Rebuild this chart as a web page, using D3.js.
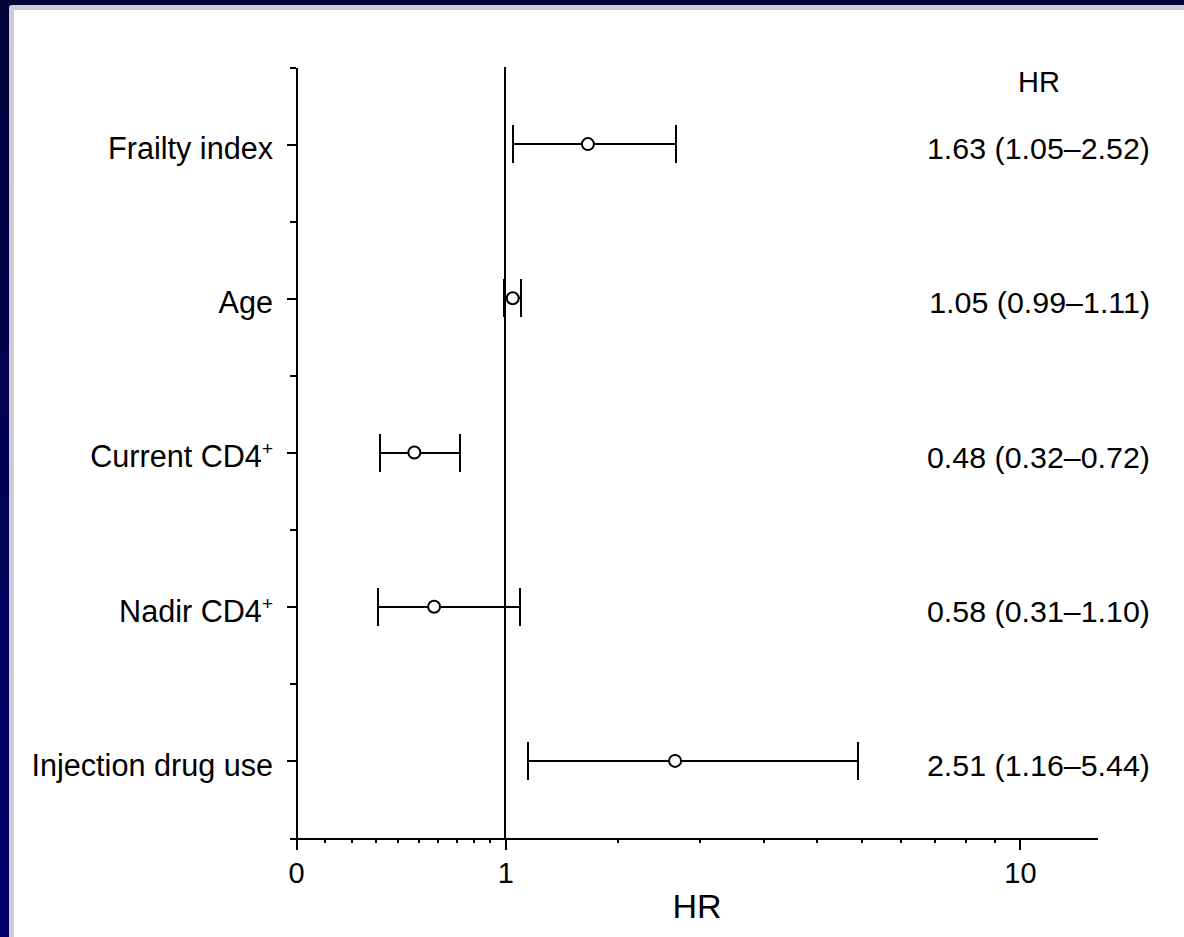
<!DOCTYPE html>
<html>
<head>
<meta charset="utf-8">
<script src="https://cdn.jsdelivr.net/npm/d3@7"></script>
<style>
  html, body { margin: 0; padding: 0; background: #000050; }
  svg { display: block; }
  text { font-family: 'Liberation Sans', Arial, Helvetica, sans-serif; fill: #000; }
  line, path.domain { shape-rendering: crispEdges; }
</style>
</head>
<body>
<script>
// forest plot data: hazard ratios with 95% CI
const labels = ['Frailty index', 'Age', 'Current CD4', 'Nadir CD4', 'Injection drug use']
const labelSup = ['', '', '+', '+', '']
const hr = [1.63, 1.05, 0.48, 0.58, 2.51]
const lo = [1.05, 0.99, 0.32, 0.31, 1.16]
const hi = [2.52, 1.11, 0.72, 1.10, 5.44]

// x axis ticks (HR scale is log of HR + 1)
const majorTicks = [0, 1, 10]
const minorTicks = [0.1, 0.2, 0.3, 0.4, 0.5, 0.6, 0.7, 0.8, 0.9,
  1.9, 2.8, 3.7, 4.6, 5.5, 6.4, 7.3, 8.2, 9.1]
const hrMax = 13.2

const width = 1184
const height = 937
const plotLeft = 296
const plotRight = 1097
const plotTop = 67
const plotBottom = 838

const svg = d3.select('body').append('svg')
  .attr('width', width)
  .attr('height', height)

// frame
const defs = svg.append('defs')
const grad = defs.append('linearGradient')
  .attr('id', 'bg')
  .attr('x1', 0).attr('y1', 0).attr('x2', 0).attr('y2', 1)
grad.append('stop').attr('offset', '0%').attr('stop-color', '#03033a')
grad.append('stop').attr('offset', '100%').attr('stop-color', '#00006c')

svg.append('rect')
  .attr('width', width).attr('height', height)
  .attr('fill', 'url(#bg)')
svg.append('rect')
  .attr('x', 9).attr('y', 5)
  .attr('width', width).attr('height', height)
  .attr('rx', 3)
  .attr('fill', '#cdcdd1')
svg.append('rect')
  .attr('x', 14).attr('y', 10)
  .attr('width', width).attr('height', height)
  .attr('fill', '#fff')

// scales
const x = d3.scaleLog()
  .domain([1, hrMax + 1])
  .range([plotLeft, plotRight])
const xv = v => x(v + 1)

const y = d3.scaleBand()
  .domain(labels)
  .range([plotTop, plotBottom])
const yc = d => y(d) + y.bandwidth() / 2

const yEdge = d3.scaleLinear()
  .domain([0, labels.length])
  .range([plotTop, plotBottom])

const g = svg.append('g')

// y axis: boundary ticks with axis line
g.append('g')
  .attr('transform', `translate(${plotLeft},0)`)
  .call(d3.axisLeft(yEdge)
    .tickValues(d3.range(labels.length + 1))
    .tickSize(6)
    .tickSizeOuter(0)
    .tickFormat(''))
  .call(a => a.selectAll('path, line').attr('stroke', '#000').attr('stroke-width', 2))

// y axis: category ticks and labels
const yPoint = d3.scalePoint()
  .domain(labels)
  .range([yc(labels[0]), yc(labels[labels.length - 1])])

const yAxis = g.append('g')
  .attr('transform', `translate(${plotLeft},0)`)
  .call(d3.axisLeft(yPoint)
    .tickSize(9)
    .tickPadding(14)
    .tickFormat(''))
yAxis.select('.domain').remove()
yAxis.selectAll('line').attr('stroke', '#000').attr('stroke-width', 2)
yAxis.selectAll('.tick text')
  .attr('dy', '0.47em')
  .style('font-size', '30.6px')
  .each(function (d, i) {
    const t = d3.select(this)
    t.append('tspan').text(d)
    if (labelSup[i]) {
      t.append('tspan')
        .attr('dy', -12)
        .style('font-size', '19px')
        .text(labelSup[i])
    }
  })

// x axis: minor ticks
g.append('g')
  .attr('transform', `translate(0,${plotBottom})`)
  .call(d3.axisBottom(x)
    .tickValues(minorTicks.map(v => v + 1))
    .tickSize(5)
    .tickSizeOuter(0)
    .tickFormat(''))
  .call(a => a.selectAll('path, line').attr('stroke', '#000').attr('stroke-width', 2))

// x axis: major ticks
const xAxis = g.append('g')
  .attr('transform', `translate(0,${plotBottom})`)
  .call(d3.axisBottom(x)
    .tickValues(majorTicks.map(v => v + 1))
    .tickSize(12)
    .tickPadding(12)
    .tickFormat(d => d3.format('d')(d - 1)))
xAxis.select('.domain').remove()
xAxis.selectAll('line').attr('stroke', '#000').attr('stroke-width', 2)
xAxis.selectAll('text')
  .style('font-size', '29px')

// x axis title
g.append('text')
  .attr('x', 697)
  .attr('y', 918)
  .attr('text-anchor', 'middle')
  .style('font-size', '34px')
  .text('HR')

// reference line at HR = 1
g.append('line')
  .attr('x1', xv(1)).attr('x2', xv(1))
  .attr('y1', plotTop).attr('y2', plotBottom)
  .attr('stroke', '#000')
  .attr('stroke-width', 2)

// confidence intervals
const cap = 19
const rows = g.append('g')
  .selectAll('g')
  .data(labels)
  .join('g')
  .attr('stroke', '#000')
  .attr('stroke-width', 2)

rows.append('line')
  .attr('x1', (d, i) => xv(lo[i]))
  .attr('x2', (d, i) => xv(hi[i]))
  .attr('y1', d => yc(d))
  .attr('y2', d => yc(d))

rows.append('line')
  .attr('x1', (d, i) => xv(lo[i]))
  .attr('x2', (d, i) => xv(lo[i]))
  .attr('y1', d => yc(d) - cap)
  .attr('y2', d => yc(d) + cap)

rows.append('line')
  .attr('x1', (d, i) => xv(hi[i]))
  .attr('x2', (d, i) => xv(hi[i]))
  .attr('y1', d => yc(d) - cap)
  .attr('y2', d => yc(d) + cap)

rows.append('circle')
  .attr('cx', (d, i) => xv(hr[i]))
  .attr('cy', d => yc(d))
  .attr('r', 6)
  .attr('fill', '#fff')

// right column: HR (95% CI)
const fmt = d3.format('.2f')
const colRight = 1150
const colCenter = 1039

g.append('text')
  .attr('x', colCenter)
  .attr('y', 92)
  .attr('text-anchor', 'middle')
  .style('font-size', '29px')
  .text('HR')

g.append('g')
  .selectAll('text')
  .data(labels)
  .join('text')
  .attr('x', colRight)
  .attr('y', d => yc(d) + 15)
  .attr('text-anchor', 'end')
  .style('font-size', '30.4px')
  .text((d, i) => `${fmt(hr[i])} (${fmt(lo[i])}\u2013${fmt(hi[i])})`)
</script>
</body>
</html>
